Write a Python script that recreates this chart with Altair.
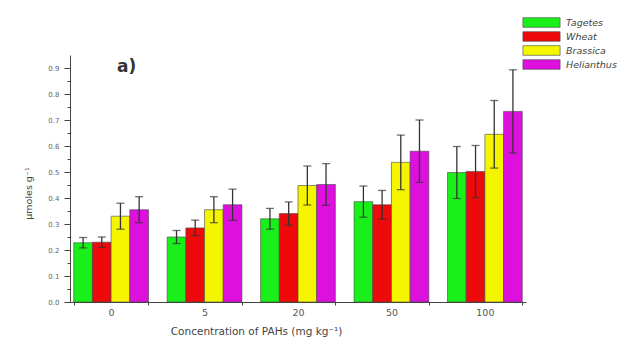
import altair as alt
import pandas as pd

conc = ["0", "5", "20", "50", "100"]
species = ["Tagetes", "Wheat", "Brassica", "Helianthus"]
colors = ["#19f019", "#ee0a0a", "#f5f500", "#dd10dd"]

tagetes = [0.228, 0.250, 0.320, 0.386, 0.498]
wheat = [0.230, 0.285, 0.340, 0.374, 0.502]
brassica = [0.330, 0.355, 0.448, 0.537, 0.645]
helianthus = [0.355, 0.374, 0.452, 0.580, 0.733]

tagetes_err = [0.020, 0.025, 0.040, 0.060, 0.100]
wheat_err = [0.020, 0.030, 0.045, 0.055, 0.100]
brassica_err = [0.050, 0.050, 0.075, 0.105, 0.130]
helianthus_err = [0.050, 0.060, 0.080, 0.120, 0.160]

y_ticks = [0.0, 0.1, 0.2, 0.3, 0.4, 0.5, 0.6, 0.7, 0.8, 0.9]
y_minor = [0.05, 0.15, 0.25, 0.35, 0.45, 0.55, 0.65, 0.75, 0.85]

rows = []
for sp, vals, errs in [("Tagetes", tagetes, tagetes_err), ("Wheat", wheat, wheat_err),
                       ("Brassica", brassica, brassica_err), ("Helianthus", helianthus, helianthus_err)]:
    for c, v, e in zip(conc, vals, errs):
        rows.append({"conc": c, "species": sp, "value": v, "lo": v - e, "hi": v + e})
df = pd.DataFrame(rows)

FONT = "DejaVu Sans"

x_enc = alt.X("conc:N", sort=conc,
              scale=alt.Scale(paddingInner=0.2, paddingOuter=0.04),
              axis=alt.Axis(title="Concentration of PAHs (mg kg⁻¹)", labelAngle=0,
                            tickBand="extent", tickSize=3, labelFontSize=9.5,
                            titleFontSize=10.5, titleFontWeight="normal", labelColor="#555",
                            titleColor="#444", domainColor="#444", tickColor="#444",
                            labelPadding=2, titlePadding=10, titleX=186, titleAlign="center"))
xoff = alt.XOffset("species:N", sort=species, scale=alt.Scale(paddingInner=0, paddingOuter=0))
y_scale = alt.Scale(domain=[0, 0.95], nice=False)

bars = alt.Chart(df).mark_bar(stroke="#444", strokeWidth=0.6).encode(
    x=x_enc,
    xOffset=xoff,
    y=alt.Y("value:Q", scale=y_scale,
            axis=alt.Axis(values=y_ticks, format=".1f", title="μmoles g⁻¹", orient="left",
                          labelFontSize=7, titleFontSize=9.5, titleFontWeight="normal",
                          labelColor="#666", titleColor="#444", domainColor="#444",
                          tickColor="#444", tickSize=6, labelPadding=5, grid=False,
                          titlePadding=14, titleY=138)),
    color=alt.Color("species:N", sort=species,
                    scale=alt.Scale(domain=species, range=colors),
                    legend=alt.Legend(title=None, orient="none", legendX=464, legendY=-40,
                                      labelFont=FONT, labelFontSize=9.5, labelFontStyle="italic",
                                      labelColor="#444",
                                      symbolType="M-2.7,-0.7 h5.4 v1.4 h-5.4 z",
                                      symbolSize=190, symbolStrokeColor="#444",
                                      symbolStrokeWidth=0.6, rowPadding=0, labelOffset=17)),
)

rules = alt.Chart(df).mark_rule(color="#333", strokeWidth=1.3).encode(
    x=alt.X("conc:N", sort=conc),
    xOffset=xoff,
    y=alt.Y("lo:Q", scale=y_scale,
            axis=alt.Axis(values=y_minor, labels=False, title=None, domain=False, orient="left",
                          tickSize=3, tickColor="#444", grid=False)),
    y2="hi:Q",
)

caps_hi = alt.Chart(df).mark_tick(color="#333", size=8, thickness=1.3).encode(
    x=alt.X("conc:N", sort=conc),
    xOffset=xoff,
    y=alt.Y("hi:Q", scale=y_scale, axis=None),
)
caps_lo = alt.Chart(df).mark_tick(color="#333", size=8, thickness=1.3).encode(
    x=alt.X("conc:N", sort=conc),
    xOffset=xoff,
    y=alt.Y("lo:Q", scale=y_scale, axis=None),
)

label = alt.Chart(pd.DataFrame({"t": ["a)"]})).mark_text(
    font=FONT, fontSize=17, fontWeight="bold", color="#333", align="left", baseline="middle"
).encode(x=alt.value(47), y=alt.value(12), text="t:N")

chart = alt.layer(bars, rules, caps_hi, caps_lo, label).resolve_axis(y="independent").properties(
    width=456, height=247, padding={"left": 15, "top": 7, "right": 5, "bottom": 5}
).configure(font=FONT).configure_view(stroke=None)

chart.save("out.html", embed_options={"renderer": "svg", "actions": False})
